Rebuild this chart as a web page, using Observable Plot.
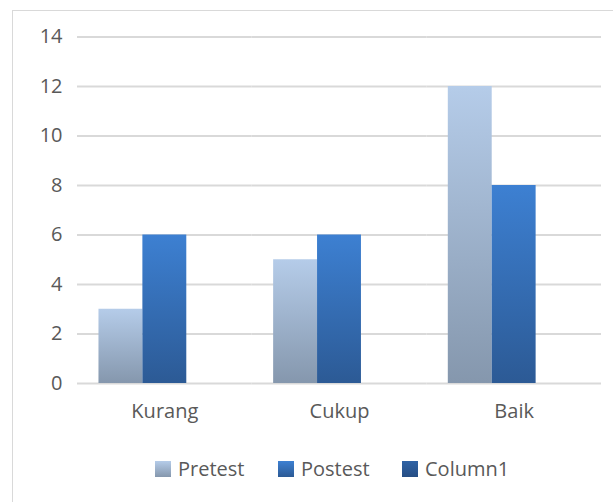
<!DOCTYPE html>
<html>
<head>
<meta charset="utf-8">
<script src="https://cdn.jsdelivr.net/npm/d3@7"></script>
<script src="https://cdn.jsdelivr.net/npm/@observablehq/plot@0.6"></script>
<style>
  html, body { margin: 0; padding: 0; background: #fff; }
  body { width: 613px; height: 502px; position: relative; overflow: hidden; font-family: "Open Sans", sans-serif; }
  #frame { position: absolute; left: 12px; top: 10px; width: 620px; height: 520px; border-left: 1.5px solid #d9d9d9; border-top: 1.5px solid #d9d9d9; box-sizing: border-box; }
  #chart { position: absolute; left: 0; top: 0; }
  #legend { position: absolute; top: 455px; left: 0; width: 613px; height: 30px; font-size: 20px; color: #595959; }
  .item { position: absolute; top: 0; display: flex; align-items: center; }
  .sw { width: 16px; height: 16px; margin-right: 7px; }
</style>
</head>
<body>
<div id="frame"></div>
<div id="chart"></div>
<div id="legend"></div>
<script>
const categories = ["Kurang", "Cukup", "Baik"];
const seriesNames = ["Pretest", "Postest", "Column1"];
const pretest = [3, 5, 12];
const postest = [6, 6, 8];
const column1 = [null, null, null];
const yTicks = [0, 2, 4, 6, 8, 10, 12, 14];

const gradients = {
  Pretest: ["#b5cce9", "#8597ad"],
  Postest: ["#3d80d2", "#2c5a95"],
  Column1: ["#2e62a5", "#264e84"]
};
const legendLeft = [155, 278, 402];

const values = [pretest, postest, column1];
const data = [];
categories.forEach((c, i) => {
  seriesNames.forEach((s, j) => {
    if (values[j][i] != null) data.push({category: c, series: s, value: values[j][i]});
  });
});

const plot = Plot.plot({
  width: 613,
  height: 428,
  marginLeft: 77,
  marginRight: 12,
  marginTop: 36.5,
  marginBottom: 45,
  style: { fontFamily: "Open Sans, sans-serif", fontSize: "20px", color: "#595959", background: "transparent" },
  fx: { domain: categories, padding: 0, round: false, axis: "bottom", label: null, tickSize: 0, tickPadding: 20 },
  x: { domain: seriesNames, paddingInner: 0, paddingOuter: 0.489, round: false, axis: null },
  y: { domain: [0, 14], ticks: yTicks, label: null, tickSize: 0, tickPadding: 15 },
  color: { domain: seriesNames, range: seriesNames.map(s => `url(#grad-${s})`) },
  marks: [
    Plot.ruleY(yTicks, { stroke: "#d9d9d9", strokeWidth: 2 }),
    Plot.barY(data, { fx: "category", x: "series", y: "value", fill: "series", inset: 0 })
  ]
});

const svg = d3.select(plot);
svg.selectAll("text").style("font-size", "20px");
const defs = svg.insert("defs", ":first-child");
seriesNames.forEach(s => {
  const g = defs.append("linearGradient").attr("id", `grad-${s}`).attr("x1", 0).attr("y1", 0).attr("x2", 0).attr("y2", 1);
  g.append("stop").attr("offset", "0%").attr("stop-color", gradients[s][0]);
  g.append("stop").attr("offset", "100%").attr("stop-color", gradients[s][1]);
});
document.getElementById("chart").appendChild(plot);

const legend = document.getElementById("legend");
seriesNames.forEach((s, i) => {
  const item = document.createElement("div");
  item.className = "item";
  item.style.left = legendLeft[i] + "px";
  const sw = document.createElement("div");
  sw.className = "sw";
  sw.style.background = `linear-gradient(${gradients[s][0]}, ${gradients[s][1]})`;
  const t = document.createElement("span");
  t.textContent = s;
  item.appendChild(sw);
  item.appendChild(t);
  legend.appendChild(item);
});
</script>
</body>
</html>
